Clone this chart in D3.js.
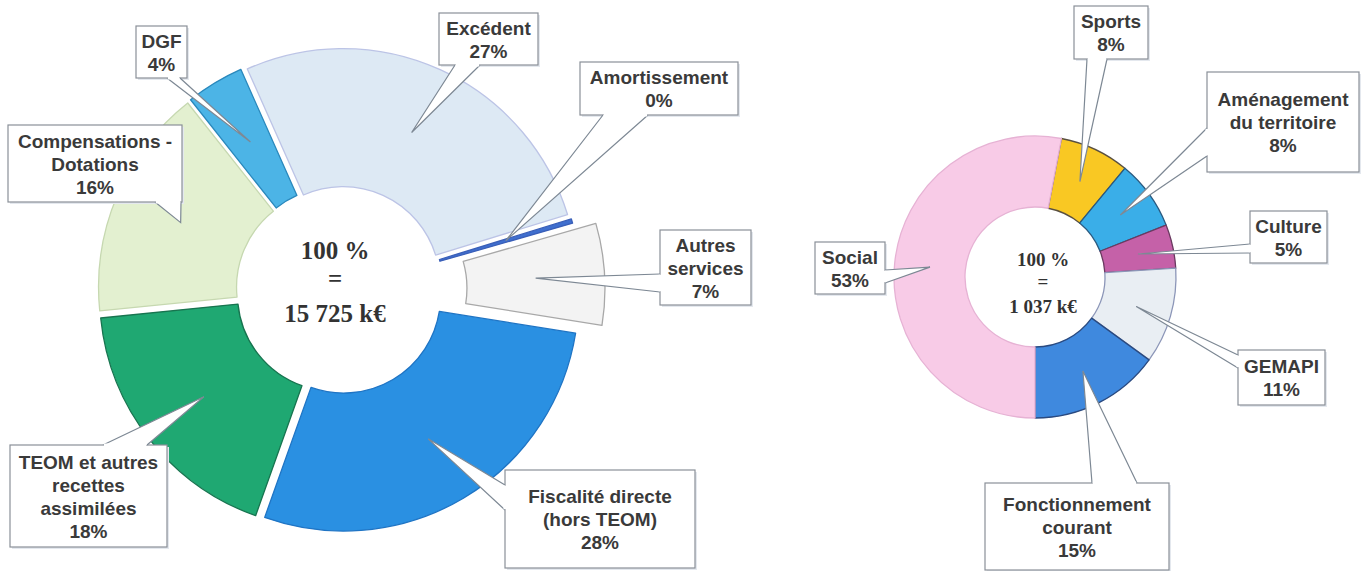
<!DOCTYPE html>
<html>
<head>
<meta charset="utf-8">
<script src="https://cdn.jsdelivr.net/npm/d3@7"></script>
<style>
  body { margin: 0; background: #fff; }
  svg { display: block; }
  .callout text { font-family: "Liberation Sans", Arial, sans-serif; font-weight: bold; font-size: 19px; fill: #3a3a3a; }
  .total { font-family: "Liberation Serif", "Times New Roman", serif; font-weight: bold; fill: #333; text-anchor: middle; }
</style>
</head>
<body>
<svg></svg>
<script>
// data
const LEFT_LABELS = ['Excédent', 'Amortissement', 'Autres\nservices', 'Fiscalité directe\n(hors TEOM)', 'TEOM et autres\nrecettes\nassimilées', 'Compensations -\nDotations', 'DGF']
const LEFT_VALUES = [27, 0.3, 7, 28, 18, 16, 4]
const LEFT_TOTAL = ['100 %', '=', '15 725 k€']

const RIGHT_LABELS = ['Sports', 'Aménagement\ndu territoire', 'Culture', 'GEMAPI', 'Fonctionnement\ncourant', 'Social']
const RIGHT_VALUES = [8, 8, 5, 11, 15, 53]
const RIGHT_TOTAL = ['100 %', '=', '1 037 k€']

// styles
const LEFT_FILLS = ['#dde9f4', '#3f6fcf', '#f3f3f3', '#2a90e2', '#1fa872', '#e3f0d0', '#4cb4e6']
const LEFT_STROKES = ['#bcc4e6', '#3a5fb8', '#a8a8a8', '#1f74c4', '#17744f', '#c6d8b0', '#2a88bc']
const RIGHT_FILLS = ['#f9c823', '#3aaee8', '#c561a8', '#e9eef3', '#3f89de', '#f8cbe7']
const RIGHT_STROKES = ['#5a5040', '#2a5a80', '#6a3a60', '#8c96b8', '#2a4a80', '#e6b2d4']

// layout
const LEFT_CHART = {
  cx: 340, cy: 290, inner: 97, outer: 235, start: -24,
  explode: [7, 7, 30, 7, 7, 7, 7],
  totalX: 335, totalY: [259, 287, 322], totalSize: 25,
  boxes: [
    { x: 439, y: 13, w: 99, h: 52, base: [[455, 65], [480, 65]] },
    { x: 580, y: 62, w: 158, h: 53, base: [[603, 115], [648, 115]] },
    { x: 660, y: 230, w: 91, h: 75, base: [[660, 274], [660, 292]] },
    { x: 505, y: 470, w: 190, h: 98, base: [[505, 485], [505, 510]] },
    { x: 10, y: 445, w: 157, h: 102, base: [[103, 445], [147, 445]] },
    { x: 8, y: 125, w: 174, h: 77, base: [[155, 202], [181, 202]] },
    { x: 136, y: 26, w: 51, h: 52, base: [[167, 78], [180, 78]] }
  ]
}

const RIGHT_CHART = {
  cx: 1035, cy: 277, inner: 70, outer: 141, start: 10.8,
  explode: [0, 0, 0, 0, 0, 0],
  totalX: 1043, totalY: [266, 288, 313], totalSize: 19,
  boxes: [
    { x: 1074, y: 6, w: 74, h: 53, base: [[1087, 59], [1107, 59]] },
    { x: 1207, y: 72, w: 152, h: 100, base: [[1207, 128], [1207, 156]] },
    { x: 1250, y: 211, w: 77, h: 52, base: [[1250, 244], [1250, 253]] },
    { x: 1238, y: 350, w: 87, h: 55, base: [[1238, 355], [1238, 368]] },
    { x: 985, y: 483, w: 184, h: 87, base: [[1092, 483], [1137, 483]] },
    { x: 815, y: 242, w: 70, h: 52, base: [[885, 270], [885, 283]] }
  ]
}

const LINE_HEIGHT = 23

const svg = d3.select('svg').attr('width', 1367).attr('height', 571)

drawDonut(LEFT_LABELS, LEFT_VALUES, LEFT_FILLS, LEFT_STROKES, LEFT_TOTAL, LEFT_CHART)
drawDonut(RIGHT_LABELS, RIGHT_VALUES, RIGHT_FILLS, RIGHT_STROKES, RIGHT_TOTAL, RIGHT_CHART)

function drawDonut(labels, values, fills, strokes, totalLines, layout) {
  const data = labels.map((label, i) => ({ label, value: values[i], i }))
  const total = d3.sum(values)
  const start = layout.start * Math.PI / 180

  const pie = d3.pie()
    .sort(null)
    .value(d => d.value)
    .startAngle(start)
    .endAngle(start + 2 * Math.PI)

  const arc = d3.arc()
    .innerRadius(layout.inner)
    .outerRadius(layout.outer)

  const arcs = pie(data)

  const offset = d => {
    const mid = (d.startAngle + d.endAngle) / 2
    const e = layout.explode[d.data.i]
    return [e * Math.sin(mid), -e * Math.cos(mid)]
  }

  const g = svg.append('g').attr('transform', `translate(${layout.cx}, ${layout.cy})`)

  g.selectAll('path.slice')
    .data(arcs)
    .enter()
    .append('path')
    .attr('class', 'slice')
    .attr('transform', d => `translate(${offset(d)})`)
    .attr('d', arc)
    .attr('fill', d => fills[d.data.i])
    .attr('stroke', d => strokes[d.data.i])
    .attr('stroke-width', 1.3)
    .attr('stroke-linejoin', 'round')

  // centre text
  totalLines.forEach((t, k) => {
    svg.append('text')
      .attr('class', 'total')
      .attr('x', layout.totalX)
      .attr('y', layout.totalY[k])
      .attr('font-size', layout.totalSize)
      .text(t)
  })

  // callouts
  const callouts = svg.append('g').attr('class', 'callout')
  arcs.forEach(d => {
    const box = layout.boxes[d.data.i]
    const c = arc.centroid(d)
    const o = offset(d)
    const tip = [layout.cx + c[0] + o[0], layout.cy + c[1] + o[1]]
    const co = callouts.append('g')

    co.append('rect')
      .attr('x', box.x + 2).attr('y', box.y + 2)
      .attr('width', box.w).attr('height', box.h)
      .attr('fill', '#e4e8ee')

    co.append('rect')
      .attr('x', box.x).attr('y', box.y)
      .attr('width', box.w).attr('height', box.h)
      .attr('fill', '#fff')
      .attr('stroke', '#8a9098')
      .attr('stroke-width', 1.2)

    co.append('path')
      .attr('d', d3.line()([box.base[0], tip, box.base[1]]))
      .attr('fill', '#fff')
      .attr('stroke', '#7d8894')
      .attr('stroke-width', 1.2)

    // hide the box border where the pointer attaches
    const [b1, b2] = box.base
    const len = Math.hypot(b2[0] - b1[0], b2[1] - b1[1])
    const ux = (b2[0] - b1[0]) / len, uy = (b2[1] - b1[1]) / len
    co.append('line')
      .attr('x1', b1[0] + ux * 0.8).attr('y1', b1[1] + uy * 0.8)
      .attr('x2', b2[0] - ux * 0.8).attr('y2', b2[1] - uy * 0.8)
      .attr('stroke', '#fff')
      .attr('stroke-width', 3)

    const lines = d.data.label.split('\n').concat(`${Math.round(d.data.value / total * 100)}%`)
    const firstY = box.y + box.h / 2 - (lines.length - 1) * LINE_HEIGHT / 2 + 7
    const text = co.append('text')
      .attr('text-anchor', 'middle')
    lines.forEach((line, k) => {
      text.append('tspan')
        .attr('x', box.x + box.w / 2)
        .attr('y', firstY + k * LINE_HEIGHT)
        .text(line)
    })
  })
}
</script>
</body>
</html>
